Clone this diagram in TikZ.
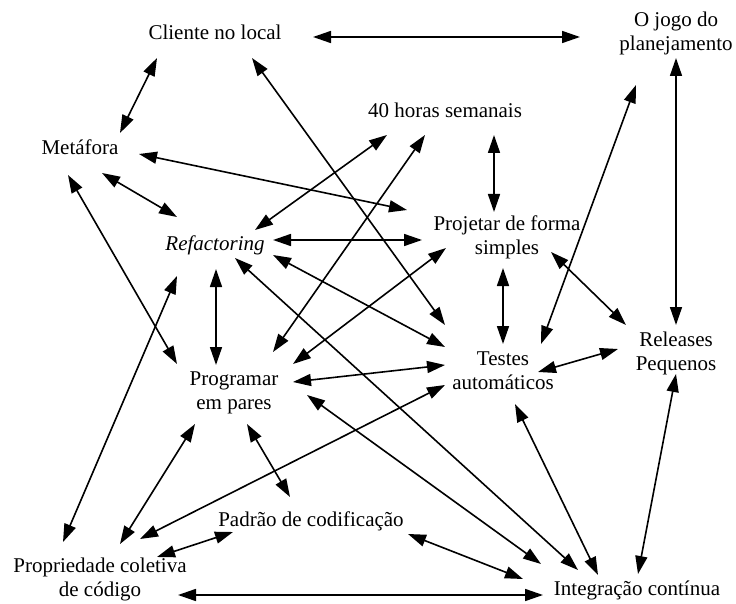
\documentclass[tikz,border=0pt]{standalone}
\usepackage{fontspec}
\setmainfont{Liberation Serif}
\usepackage{tikz}
\usetikzlibrary{arrows.meta}
\tikzset{practice/.style={font=\fontsize{21}{24}\selectfont,align=center,anchor=base,inner sep=0pt}}
\tikzset{link/.style={draw,line width=1.6pt,{Triangle[length=18pt,width=12pt]}-{Triangle[length=18pt,width=12pt]}}}

\begin{document}
\begin{tikzpicture}[x=1pt,y=-1pt]
                \useasboundingbox (0,0) rectangle (736,604);
                \node[practice] (cli) at (215,40) {Cliente no local};
                \node[practice] (jogo) at (676,51) {O jogo do\\planejamento};
                \node[practice] (h40) at (445,118) {40 horas semanais};
                \node[practice] (met) at (80,155) {Metáfora};
                \node[practice] (proj) at (507,254) {Projetar de forma\\simples};
                \node[practice] (ref) at (215,250) {\textit{Refactoring}};
                \node[practice] (tes) at (503,389) {Testes\\automáticos};
                \node[practice] (rel) at (676,370) {Releases\\Pequenos};
                \node[practice] (prog) at (234,409) {Programar\\em pares};
                \node[practice] (pad) at (311,526) {Padrão de codificação};
                \node[practice] (prop) at (100,596) {Propriedade coletiva\\de código};
                \node[practice] (integ) at (637,595) {Integração contínua};
                % cliente no local
                    \path[link] ([xshift=98pt,yshift=3pt]cli.base) -- ([xshift=-96pt,yshift=14pt]jogo.base);
                    \path[link] ([xshift=-58pt,yshift=-18pt]cli.base) -- ([xshift=40pt,yshift=22pt]met.base);
                    \path[link] ([xshift=37pt,yshift=-18pt]cli.base) -- ([xshift=-58pt,yshift=64pt]tes.base);
                % metafora
                    \path[link] ([xshift=59pt,yshift=1pt]met.base) -- ([xshift=-100pt,yshift=44pt]proj.base);
                    \path[link] ([xshift=22pt,yshift=-18pt]met.base) -- ([xshift=-38pt,yshift=33pt]ref.base);
                    \path[link] ([xshift=-12pt,yshift=-20pt]met.base) -- ([xshift=-57pt,yshift=45pt]prog.base);
                % 40 horas
                    \path[link] ([xshift=-58pt,yshift=-17pt]h40.base) -- ([xshift=40pt,yshift=20pt]ref.base);
                    \path[link] ([xshift=-20pt,yshift=-17pt]h40.base) -- ([xshift=39pt,yshift=57pt]prog.base);
                    \path[link] ([xshift=49pt,yshift=-17pt]h40.base) -- ([xshift=-13pt,yshift=42pt]proj.base);
                % refactoring
                    \path[link] ([xshift=58pt,yshift=10pt]ref.base) -- ([xshift=-85pt,yshift=14pt]proj.base);
                    \path[link] ([xshift=1pt,yshift=-19pt]ref.base) -- ([xshift=-18pt,yshift=44pt]prog.base);
                    \path[link] ([xshift=58pt,yshift=-5pt]ref.base) -- ([xshift=-58pt,yshift=42pt]tes.base);
                    \path[link] ([xshift=20pt,yshift=-8pt]ref.base) -- ([xshift=-59pt,yshift=25pt]integ.base);
                    \path[link] ([xshift=-38pt,yshift=-26pt]ref.base) -- ([xshift=-37pt,yshift=54pt]prop.base);
                % projetar
                    \path[link] ([xshift=-4pt,yshift=-14pt]proj.base) -- ([xshift=0pt,yshift=45pt]tes.base);
                    \path[link] ([xshift=44pt,yshift=2pt]proj.base) -- ([xshift=-50pt,yshift=45pt]rel.base);
                    \path[link] ([xshift=-61pt,yshift=6pt]proj.base) -- ([xshift=59pt,yshift=45pt]prog.base);
                % jogo do planejamento
                    \path[link] ([xshift=-40pt,yshift=-34pt]jogo.base) -- ([xshift=38pt,yshift=45pt]tes.base);
                    \path[link] ([xshift=0pt,yshift=-7pt]jogo.base) -- ([xshift=0pt,yshift=45pt]rel.base);
                % testes
                    \path[link] ([xshift=35pt,yshift=17pt]tes.base) -- ([xshift=-58pt,yshift=21pt]rel.base);
                    \path[link] ([xshift=-58pt,yshift=24pt]tes.base) -- ([xshift=59pt,yshift=27pt]prog.base);
                    \path[link] ([xshift=-58pt,yshift=4pt]tes.base) -- ([xshift=40pt,yshift=57pt]prop.base);
                    \path[link] ([xshift=12pt,yshift=-15pt]tes.base) -- ([xshift=-39pt,yshift=20pt]integ.base);
                    \path[link] ([xshift=0pt,yshift=-4pt]rel.base) -- ([xshift=1pt,yshift=21pt]integ.base);
                % programar
                    \path[link] ([xshift=-39pt,yshift=-15pt]prog.base) -- ([xshift=20pt,yshift=52pt]prop.base);
                    \path[link] ([xshift=13pt,yshift=-15pt]prog.base) -- ([xshift=-21pt,yshift=29pt]pad.base);
                    \path[link] ([xshift=73pt,yshift=14pt]prog.base) -- ([xshift=-96pt,yshift=31pt]integ.base);
                % padrao e propriedade
                    \path[link] ([xshift=-78pt,yshift=-6pt]pad.base) -- ([xshift=57pt,yshift=39pt]prop.base);
                    \path[link] ([xshift=97pt,yshift=-8pt]pad.base) -- ([xshift=-114pt,yshift=16pt]integ.base);
                    \path[link] ([xshift=78pt,yshift=1pt]prop.base) -- ([xshift=-94pt,yshift=0pt]integ.base);
\end{tikzpicture}
\end{document}
